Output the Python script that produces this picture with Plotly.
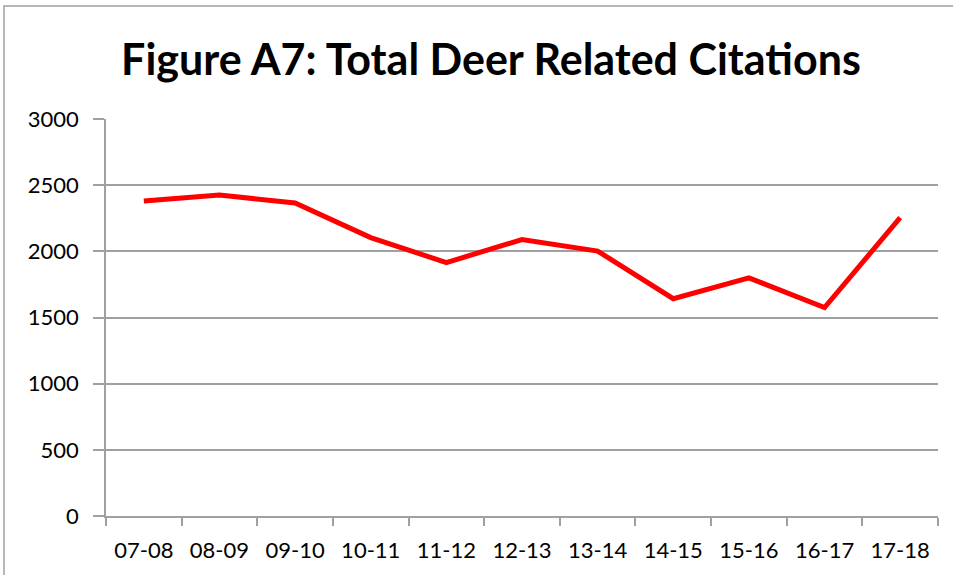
import plotly.graph_objects as go

seasons = ["07-08", "08-09", "09-10", "10-11", "11-12", "12-13", "13-14", "14-15", "15-16", "16-17", "17-18"]
citations = [2380, 2425, 2366, 2104, 1915, 2089, 2002, 1642, 1800, 1575, 2255]
y_ticks = [0, 500, 1000, 1500, 2000, 2500, 3000]

W, H = 953, 575
L, R, T, B = 106, 15, 119, 59
pw = W - L - R
ph = H - T - B

fig = go.Figure()
fig.add_trace(go.Scatter(
    x=seasons, y=citations, mode="lines",
    line=dict(color="#ff0000", width=5), showlegend=False, hoverinfo="x+y"))

font_family = "Lato, Open Sans, sans-serif"
fig.update_layout(
    width=W, height=H,
    margin=dict(l=L, r=R, t=T, b=B),
    paper_bgcolor="white", plot_bgcolor="white",
    title=dict(text="<b>Figure A7: Total Deer Related Citations</b>",
               x=491 / W, xanchor="center", y=1 - 60 / H, yanchor="middle",
               font=dict(family=font_family, size=43, color="black")),
    font=dict(family=font_family, size=22, color="black"),
    xaxis=dict(type="category", showgrid=False, showline=True, linecolor="#a0a0a0", linewidth=1.5,
               ticks="outside", ticklen=8, tickcolor="#a0a0a0", tickwidth=1.5,
               tickson="boundaries", range=[-0.5, 10.5], tickfont=dict(size=22),
               ticklabelstandoff=14, zeroline=False, fixedrange=True),
    yaxis=dict(range=[0, 3000], tickvals=y_ticks, showgrid=True, gridcolor="#a0a0a0", gridwidth=1.5,
               showline=True, linecolor="#a0a0a0", linewidth=1.5, ticks="outside", ticklen=11,
               tickcolor="#a0a0a0", tickwidth=1.5, zeroline=False, tickfont=dict(size=22),
               ticklabelstandoff=10, fixedrange=True),
    shapes=[dict(type="rect", xref="paper", yref="paper",
                 x0=(4 - L) / pw, x1=(W + 10 - L) / pw,
                 y0=-(H + 10 - T - ph) / ph, y1=(H - 6 - B) / ph,
                 line=dict(color="#a0a0a0", width=1.5), fillcolor="rgba(0,0,0,0)", layer="below")],
)

fig.write_html("out.html", config={"displayModeBar": False},
               post_script="document.body.style.margin='0';document.body.style.overflow='hidden';")
